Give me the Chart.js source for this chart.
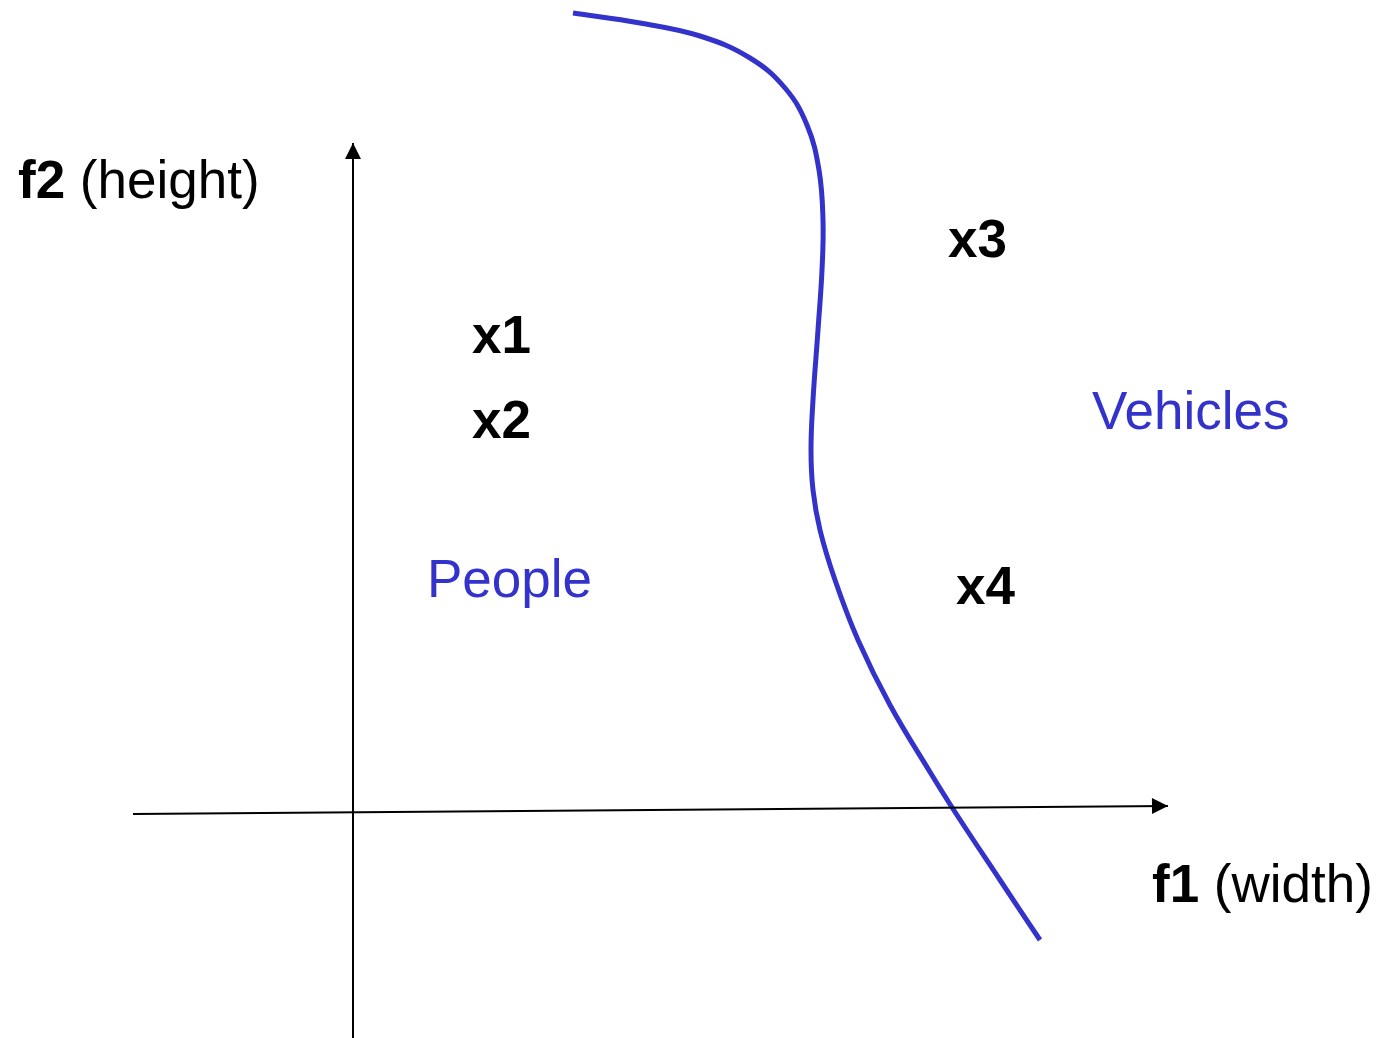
<!DOCTYPE html>
<html>
<head>
<meta charset="utf-8">
<script src="https://cdn.jsdelivr.net/npm/chart.js@4/dist/chart.umd.min.js"></script>
<style>
  html, body { margin: 0; padding: 0; background: #fff; }
  canvas { display: block; }
</style>
</head>
<body>
<canvas id="featureChart" width="1378" height="1038"></canvas>
<script>
// feature space, origin at the axis crossing
const curveX = [220, 287, 347, 397, 432, 454, 466, 470, 469, 465, 460, 458, 460, 467, 482, 505, 537, 577, 602, 647, 687];
const curveY = [799, 789, 776, 754, 724, 687, 642, 592, 542, 482, 412, 362, 322, 282, 232, 172, 107, 40, 0, -68, -128];

const axisF1X = [-220, 815];
const axisF1Y = [-2, 6];
const axisF2X = [0, 0];
const axisF2Y = [-226, 669];

const sampleNames = ['x1', 'x2', 'x3', 'x4'];
const sampleX = [119, 119, 595, 603];
const sampleY = [474, 389, 570, 223];

const regionNames = ['People', 'Vehicles'];
const regionX = [74, 739];
const regionY = [230, 398];

const axisTitles = [['f2', ' (height)'], ['f1', ' (width)']];
const axisTitleX = [-335, 799];
const axisTitleY = [629, -75];

const BLUE = '#3333cc';
const FONT = '"Liberation Sans", Arial, sans-serif';
const SIZE = 53;

const pts = (xs, ys) => xs.map((x, i) => ({ x: x, y: ys[i] }));

// arrow heads on the axes + all the text labels
const annotate = {
    id: 'annotate',
    afterDatasetsDraw(chart) {
        const c = chart.ctx;
        const sx = chart.scales.x, sy = chart.scales.y;
        const px = v => sx.getPixelForValue(v);
        const py = v => sy.getPixelForValue(v);

        function arrow(xs, ys) {
            const x0 = px(xs[0]), y0 = py(ys[0]);
            const x1 = px(xs[1]), y1 = py(ys[1]);
            const a = Math.atan2(y1 - y0, x1 - x0);
            const len = 16, half = 8;
            c.save();
            c.translate(x1, y1);
            c.rotate(a);
            c.beginPath();
            c.moveTo(0, 0);
            c.lineTo(-len, -half);
            c.lineTo(-len, half);
            c.closePath();
            c.fillStyle = '#000';
            c.fill();
            c.restore();
        }
        arrow(axisF1X, axisF1Y);
        arrow(axisF2X, axisF2Y);

        c.save();
        c.textBaseline = 'middle';
        c.textAlign = 'left';

        c.fillStyle = '#000';
        c.font = 'bold ' + SIZE + 'px ' + FONT;
        sampleNames.forEach((t, i) => c.fillText(t, px(sampleX[i]), py(sampleY[i])));

        c.fillStyle = BLUE;
        c.font = SIZE + 'px ' + FONT;
        regionNames.forEach((t, i) => c.fillText(t, px(regionX[i]), py(regionY[i])));

        c.fillStyle = '#000';
        axisTitles.forEach((parts, i) => {
            let x = px(axisTitleX[i]);
            const y = py(axisTitleY[i]);
            c.font = 'bold ' + SIZE + 'px ' + FONT;
            c.fillText(parts[0], x, y);
            x += c.measureText(parts[0]).width;
            c.font = SIZE + 'px ' + FONT;
            c.fillText(parts[1], x, y);
        });
        c.restore();
    }
};

new Chart(document.getElementById('featureChart'), {
    type: 'scatter',
    data: {
        datasets: [
            {
                data: pts(axisF1X, axisF1Y),
                showLine: true,
                borderColor: '#000',
                borderWidth: 2,
                pointRadius: 0
            },
            {
                data: pts(axisF2X, axisF2Y),
                showLine: true,
                borderColor: '#000',
                borderWidth: 2,
                pointRadius: 0
            },
            {
                data: pts(curveX, curveY),
                showLine: true,
                borderColor: BLUE,
                borderWidth: 5,
                tension: 0.4,
                pointRadius: 0
            }
        ]
    },
    options: {
        responsive: false,
        animation: false,
        layout: { padding: 0 },
        plugins: {
            legend: { display: false },
            tooltip: { enabled: false }
        },
        scales: {
            x: { type: 'linear', min: -353, max: 1025, display: false },
            y: { type: 'linear', min: -226, max: 812, display: false }
        }
    },
    plugins: [annotate]
});
</script>
</body>
</html>
